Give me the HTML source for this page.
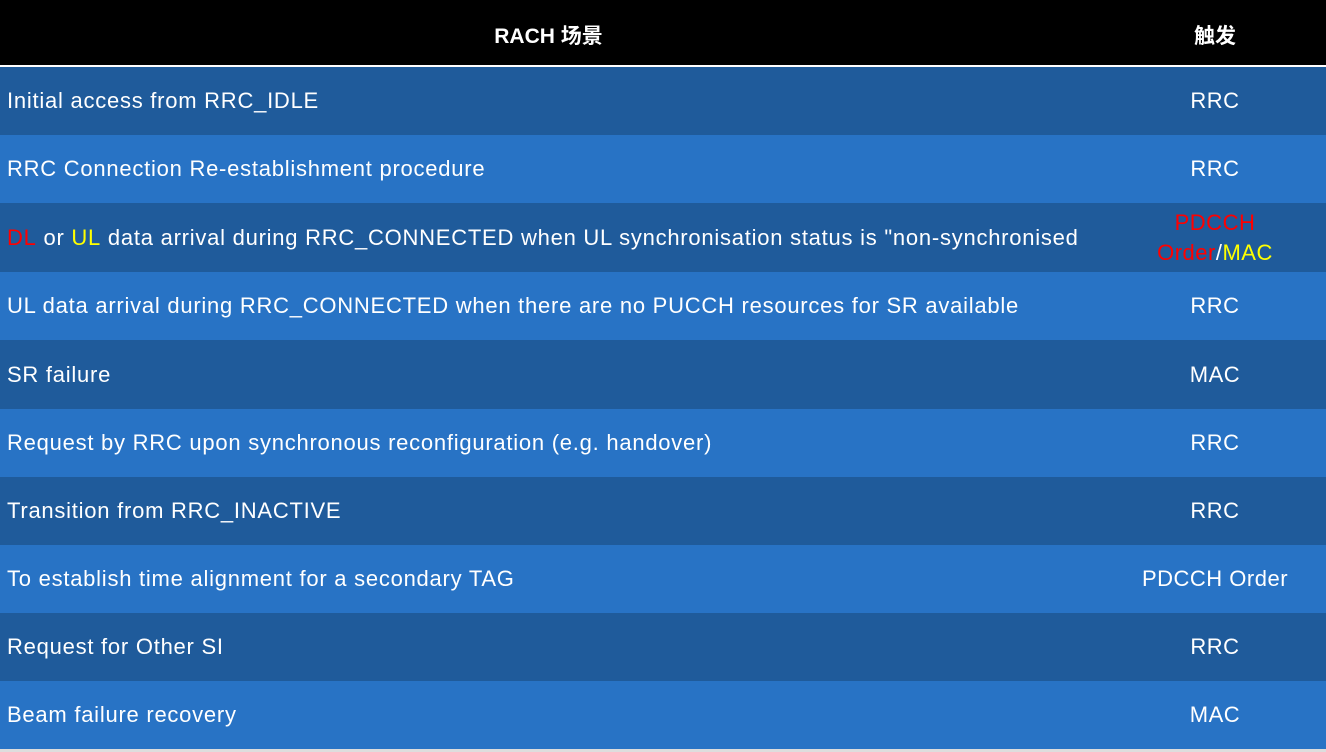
<!DOCTYPE html>
<html><head><meta charset="utf-8"><style>
html,body{margin:0;padding:0;width:1326px;height:752px;overflow:hidden;background:#ddd;font-family:"Liberation Sans","Noto Sans CJK SC",sans-serif;}
.hd{position:absolute;left:0;top:0;width:1326px;height:65px;background:#000;color:#fff;font-weight:bold;font-size:21px;}
.line{position:absolute;left:0;top:65px;width:1326px;height:2px;background:#fff;}
.r{position:absolute;left:0;width:1326px;color:#fff;font-size:22px;letter-spacing:0.75px;}
.d{background:#1f5b9b}.l{background:#2873c5}
.a{position:absolute;left:7px;top:0;height:100%;display:flex;align-items:center;white-space:nowrap;}
.b{position:absolute;left:1105px;width:220px;top:0;height:100%;display:flex;align-items:center;justify-content:center;text-align:center;letter-spacing:0.5px;}
</style></head><body>
<div class="hd"><div style="position:absolute;left:0;width:1097px;top:20px;text-align:center">RACH 场景</div><div style="position:absolute;left:1105px;width:220px;top:20px;text-align:center">触发</div></div>
<div class="line"></div>
<div class="r d" style="top:67px;height:68px"><div class="a">Initial access from RRC_IDLE</div><div class="b">RRC</div></div>
<div class="r l" style="top:135px;height:68px"><div class="a">RRC Connection Re-establishment procedure</div><div class="b">RRC</div></div>
<div class="r d" style="top:203px;height:69px"><div class="a"><span style="color:#f00">DL</span>&nbsp;or&nbsp;<span style="color:#ff0">UL</span>&nbsp;data arrival during RRC_CONNECTED when UL synchronisation status is "non-synchronised</div><div class="b" style="line-height:30px"><div><span style="color:#f00">PDCCH<br>Order</span>/<span style="color:#ff0">MAC</span></div></div></div>
<div class="r l" style="top:272px;height:68px"><div class="a">UL data arrival during RRC_CONNECTED when there are no PUCCH resources for SR available</div><div class="b">RRC</div></div>
<div class="r d" style="top:340px;height:69px"><div class="a">SR failure</div><div class="b">MAC</div></div>
<div class="r l" style="top:409px;height:68px"><div class="a">Request by RRC upon synchronous reconfiguration (e.g. handover)</div><div class="b">RRC</div></div>
<div class="r d" style="top:477px;height:68px"><div class="a">Transition from RRC_INACTIVE</div><div class="b">RRC</div></div>
<div class="r l" style="top:545px;height:68px"><div class="a">To establish time alignment for a secondary TAG</div><div class="b">PDCCH Order</div></div>
<div class="r d" style="top:613px;height:68px"><div class="a">Request for Other SI</div><div class="b">RRC</div></div>
<div class="r l" style="top:681px;height:68px"><div class="a">Beam failure recovery</div><div class="b">MAC</div></div>
</body></html>
